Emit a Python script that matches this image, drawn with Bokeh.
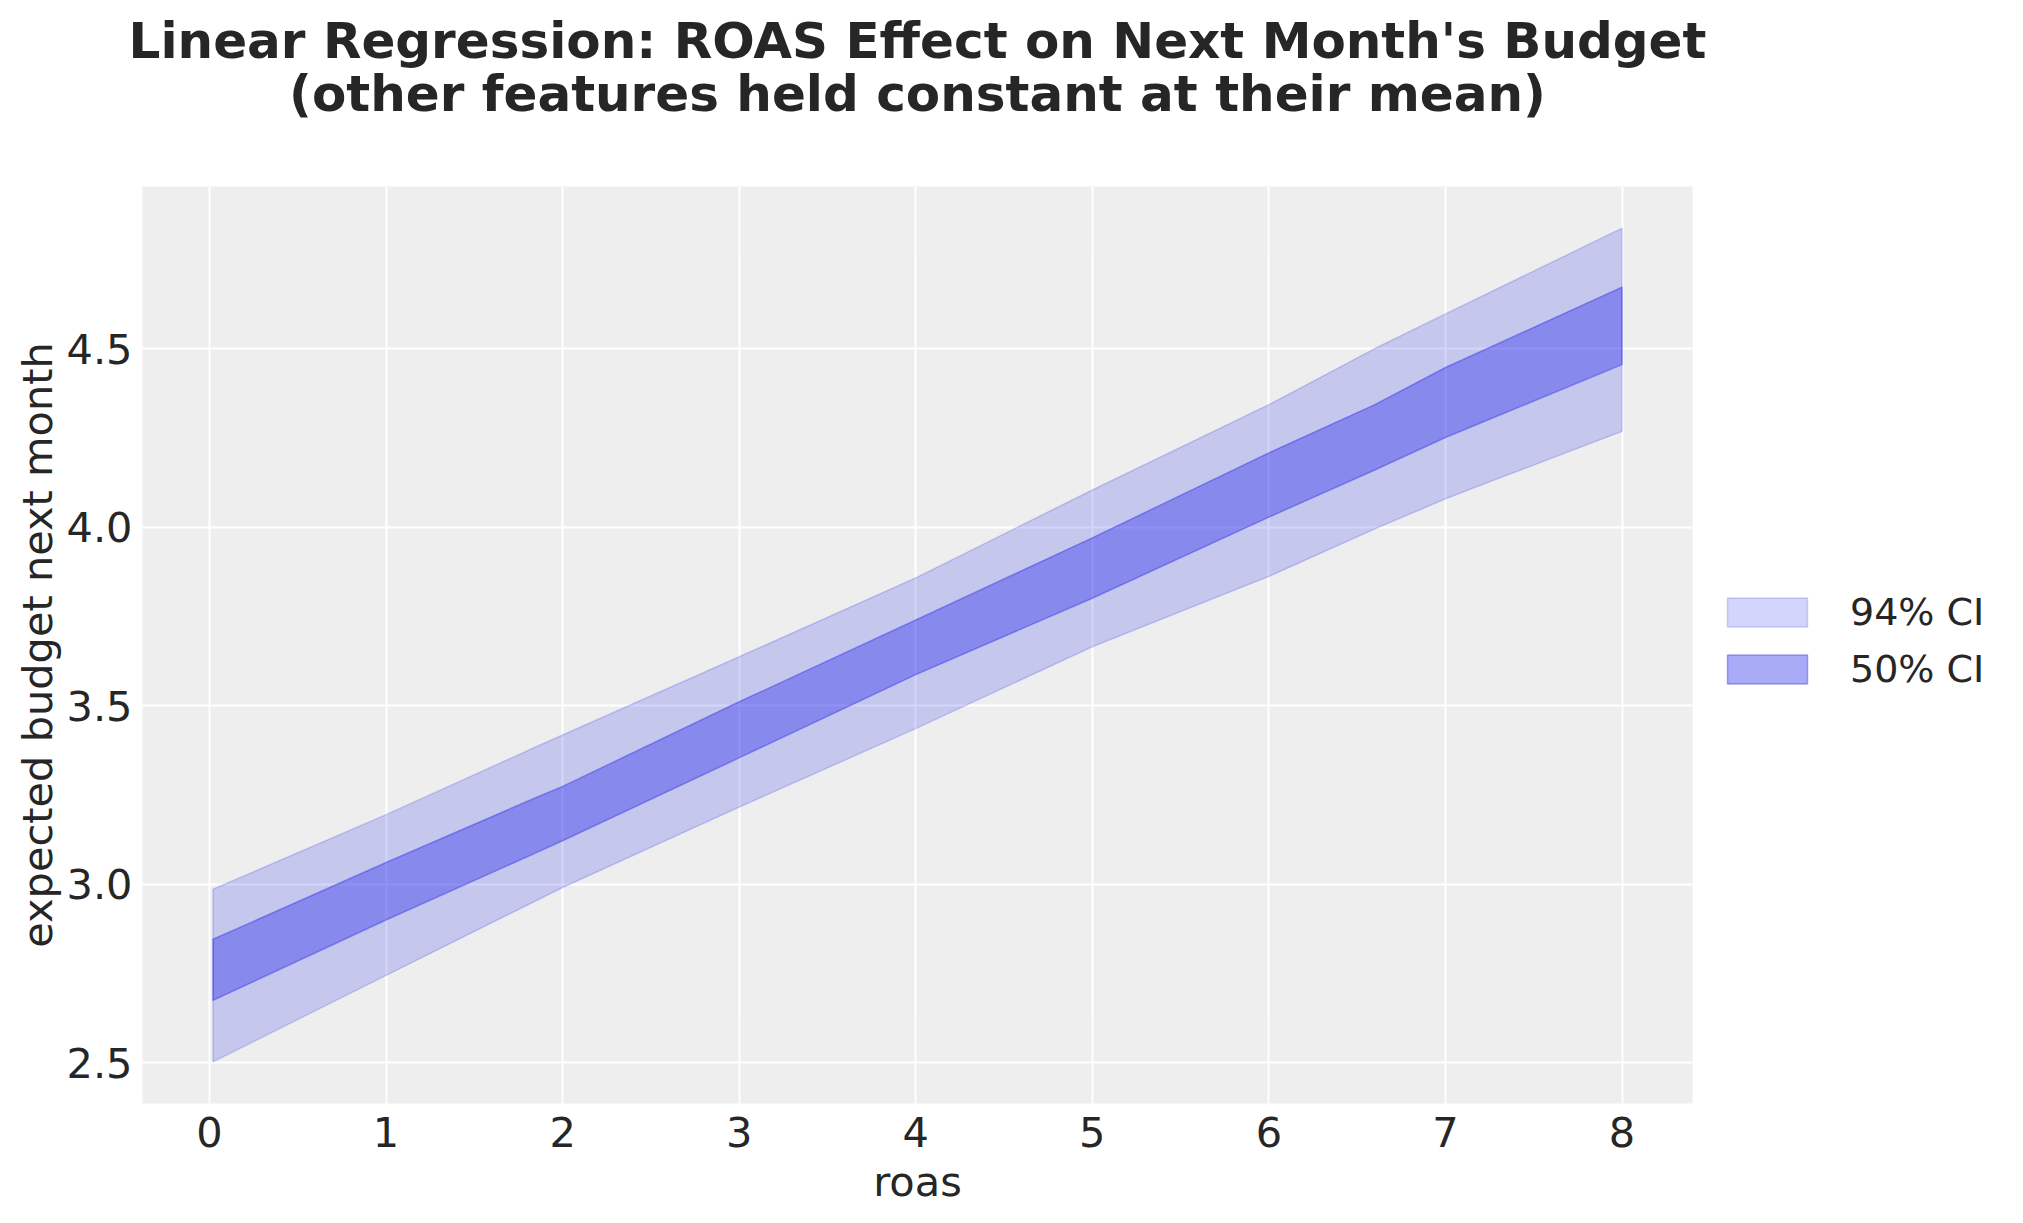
from bokeh.plotting import figure
from bokeh.models import Range1d, FixedTicker, PrintfTickFormatter, Legend, LegendItem, Title
from bokeh.embed import file_html
from bokeh.resources import INLINE

# ---- data ----
roas = [0.02, 1, 1.85, 2, 3, 4, 5, 6, 6.6, 7, 7.25, 8]
hdi94_low = [2.503, 2.745, 2.954, 2.991, 3.216, 3.436, 3.665, 3.862, 3.995, 4.079, 4.127, 4.268]
hdi94_high = [2.986, 3.195, 3.385, 3.418, 3.637, 3.858, 4.104, 4.343, 4.500, 4.597, 4.657, 4.837]
hdi50_low = [2.675, 2.900, 3.088, 3.122, 3.354, 3.587, 3.801, 4.028, 4.160, 4.251, 4.302, 4.455]
hdi50_high = [2.846, 3.061, 3.243, 3.274, 3.511, 3.740, 3.970, 4.208, 4.343, 4.447, 4.503, 4.672]
x_ticks = [0, 1, 2, 3, 4, 5, 6, 7, 8]
y_ticks = [2.5, 3.0, 3.5, 4.0, 4.5]
band_labels = ["94% CI", "50% CI"]
title_lines = ["Linear Regression: ROAS Effect on Next Month's Budget",
               "(other features held constant at their mean)"]
x_label = "roas"
y_label = "expected budget next month"

FONT = "DejaVu Sans"
TXT = "#262626"
BLUE = "#2a2eec"

# matplotlib-like 5% margins
xmin, xmax = min(roas), max(roas)
ymin, ymax = min(hdi94_low), max(hdi94_high)
xpad = 0.05 * (xmax - xmin)
ypad = 0.05 * (ymax - ymin)

p = figure(frame_width=1550, frame_height=917,
           min_border_left=142, min_border_top=186, min_border_bottom=110, min_border_right=10,
           output_backend="svg", toolbar_location=None,
           x_range=Range1d(xmin - xpad, xmax + xpad),
           y_range=Range1d(ymin - ypad, ymax + ypad))

p.background_fill_color = "#eeeeee"
p.border_fill_color = "white"
p.outline_line_color = None

# bands as closed polygons (fill + edge, like fill_between)
poly_x = roas + roas[::-1]
r94 = p.patch(poly_x, hdi94_high + hdi94_low[::-1],
              fill_color=BLUE, fill_alpha=0.2, line_color=BLUE, line_alpha=0.2, line_width=1.5)
r50 = p.patch(poly_x, hdi50_high + hdi50_low[::-1],
              fill_color=BLUE, fill_alpha=0.4, line_color=BLUE, line_alpha=0.4, line_width=1.5)

# grid
p.grid.grid_line_color = "white"
p.grid.grid_line_width = 2

# axes
for ax in (p.xaxis[0], p.yaxis[0]):
    ax.axis_line_color = None
    ax.major_tick_line_color = None
    ax.minor_tick_line_color = None
    ax.major_tick_out = 0
    ax.major_tick_in = 0
    ax.minor_tick_out = 0
    ax.minor_tick_in = 0
    ax.major_label_text_font = FONT
    ax.major_label_text_font_size = "41.5px"
    ax.major_label_text_color = TXT
    ax.axis_label_text_font = FONT
    ax.axis_label_text_font_size = "41.5px"
    ax.axis_label_text_font_style = "normal"
    ax.axis_label_text_color = TXT

p.xaxis.ticker = FixedTicker(ticks=x_ticks)
p.yaxis.ticker = FixedTicker(ticks=y_ticks)
p.xaxis.formatter = PrintfTickFormatter(format="%d")
p.yaxis.formatter = PrintfTickFormatter(format="%.1f")
p.xaxis.axis_label = x_label
p.yaxis.axis_label = y_label
p.xaxis.major_label_standoff = 13
p.xaxis.axis_label_standoff = 7
p.yaxis.major_label_standoff = 10
p.yaxis.axis_label_standoff = 2

# legend outside right (area legend glyph is inset by 10% on each side)
legend = Legend(items=[LegendItem(label=band_labels[0], renderers=[r94]),
                       LegendItem(label=band_labels[1], renderers=[r50])],
                location=(25, 412), margin=0, padding=0,
                border_line_alpha=0, background_fill_alpha=0,
                label_text_font=FONT, label_text_font_size="38px", label_text_color=TXT,
                glyph_width=100, glyph_height=36, label_standoff=33, spacing=13)
p.add_layout(legend, "right")

# title block: spacer nearest the frame, then line 2, then line 1
p.add_layout(Title(text=" ", text_font_size="10px", standoff=54), "above")
p.add_layout(Title(text=title_lines[1], align="center", text_font=FONT, text_font_size="50px",
                   text_font_style="bold", text_color=TXT, standoff=-7), "above")
p.add_layout(Title(text=title_lines[0], align="center", text_font=FONT, text_font_size="50px",
                   text_font_style="bold", text_color=TXT, standoff=-7), "above")

open("out.html", "w").write(file_html(p, INLINE))
